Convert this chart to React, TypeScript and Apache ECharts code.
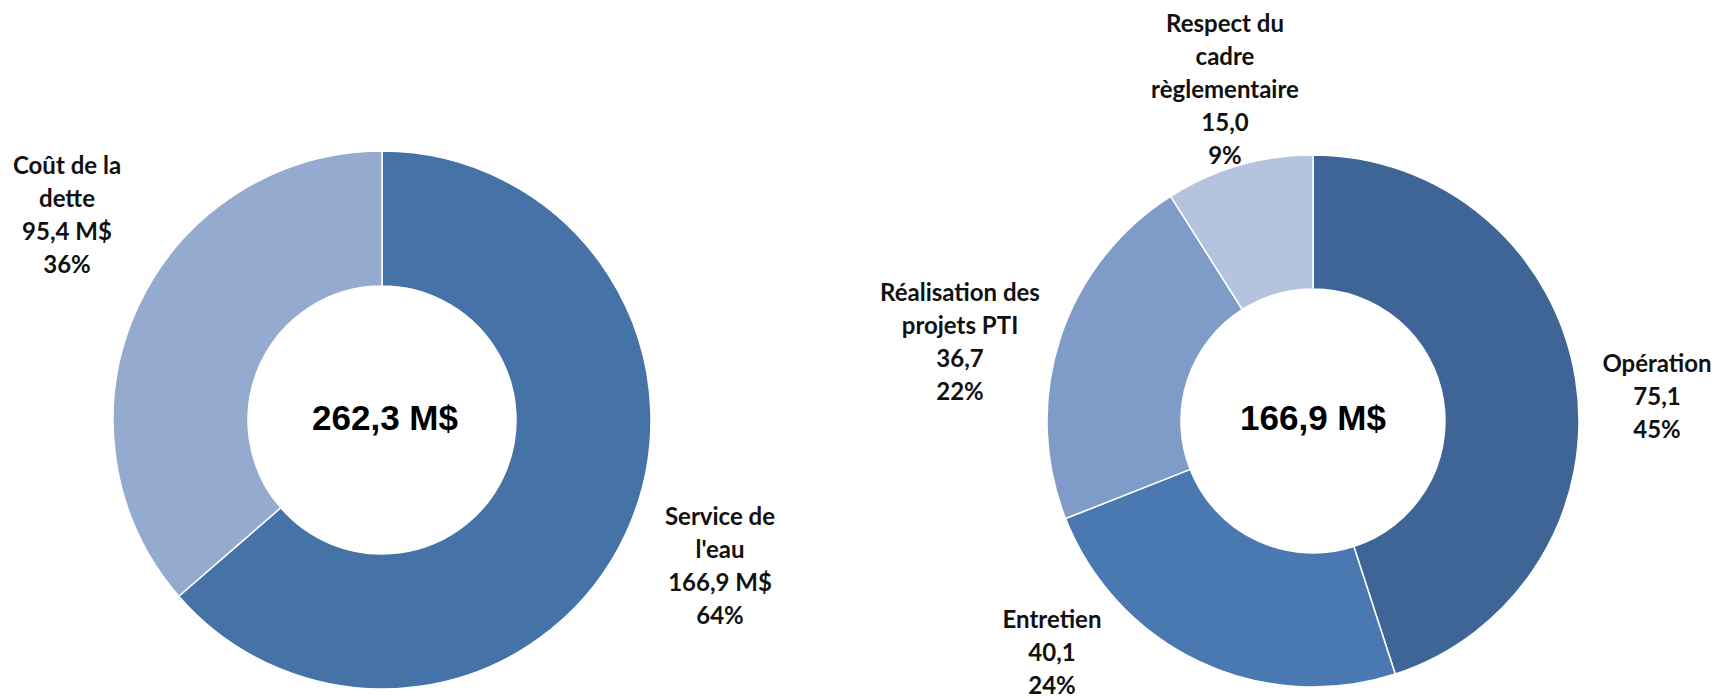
import React, { useEffect, useRef } from "react";
import * as echarts from "echarts";

const leftCategories = ["Service de\nl'eau", "Coût de la\ndette"];
const leftValues = [166.9, 95.4];
const leftColors = ["#4673A7", "#95AACF"];

const rightCategories = ["Opération", "Entretien", "Réalisation des\nprojets PTI", "Respect du\ncadre\nrèglementaire"];
const rightValues = [75.1, 40.1, 36.7, 15.0];
const rightColors = ["#3E6595", "#4A78B0", "#7F9CC8", "#B4C3DE"];

// label anchor positions (pixels)
const leftLabelPos = [[720, 565], [67, 214]];
const rightLabelPos = [[1657, 395], [1052, 651], [960, 341], [1225, 88]];

const fmt = (v: number) => v.toFixed(1).replace(".", ",");

export default function App() {
  const ref = useRef<HTMLDivElement>(null);
  useEffect(() => {
    document.body.style.margin = "0";
    const chart = echarts.init(ref.current!, null, { renderer: "svg" });
    const labelFont = {
      fontFamily: "Lato, 'Open Sans', sans-serif",
      fontWeight: "bold" as const,
      fontSize: 24,
      lineHeight: 33,
      color: "#111",
      align: "center" as const,
    };
    const leftTotal = leftValues.reduce((a, b) => a + b, 0);
    const rightTotal = rightValues.reduce((a, b) => a + b, 0);
    const common = {
      type: "pie" as const,
      startAngle: 90,
      clockwise: true,
      avoidLabelOverlap: false,
      labelLine: { show: false },
      emphasis: { disabled: true },
      itemStyle: { borderColor: "#fff", borderWidth: 1.5 },
    };
    chart.setOption({
      animation: false,
      backgroundColor: "#fff",
      series: [
        {
          ...common,
          center: [382, 420],
          radius: [134, 269],
          data: leftCategories.map((n, i) => ({ name: n, value: leftValues[i], itemStyle: { color: leftColors[i] } })),
          label: {
            show: true,
            position: "outside",
            ...labelFont,
            formatter: (p: any) => `${p.name}\n${fmt(p.value)} M$\n${Math.round(p.percent)}%`,
          },
          labelLayout: (p: any) => ({
            x: leftLabelPos[p.dataIndex][0],
            y: leftLabelPos[p.dataIndex][1],
            align: "center",
            verticalAlign: "middle",
          }),
        },
        {
          ...common,
          center: [1313, 421],
          radius: [132, 266],
          data: rightCategories.map((n, i) => ({ name: n, value: rightValues[i], itemStyle: { color: rightColors[i] } })),
          label: {
            show: true,
            position: "outside",
            ...labelFont,
            formatter: (p: any) => `${p.name}\n${fmt(p.value)}\n${Math.round(p.percent)}%`,
          },
          labelLayout: (p: any) => ({
            x: rightLabelPos[p.dataIndex][0],
            y: rightLabelPos[p.dataIndex][1],
            align: "center",
            verticalAlign: "middle",
          }),
        },
      ],
      graphic: [
        {
          type: "text",
          x: 385,
          y: 417,
          style: {
            text: `${fmt(leftTotal)} M$`,
            fontFamily: "'Liberation Sans', Arial, sans-serif",
            fontWeight: "bold",
            fontSize: 35,
            fill: "#000",
            align: "center",
            verticalAlign: "middle",
          },
        },
        {
          type: "text",
          x: 1313,
          y: 417,
          style: {
            text: `${fmt(rightTotal)} M$`,
            fontFamily: "'Liberation Sans', Arial, sans-serif",
            fontWeight: "bold",
            fontSize: 35,
            fill: "#000",
            align: "center",
            verticalAlign: "middle",
          },
        },
      ],
    });
    return () => chart.dispose();
  }, []);
  return <div ref={ref} style={{ width: 1735, height: 699 }} />;
}
